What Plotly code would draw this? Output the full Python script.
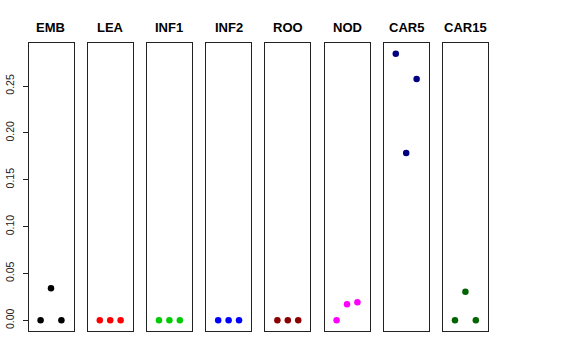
import plotly.graph_objects as go

tissues = ["EMB", "LEA", "INF1", "INF2", "ROO", "NOD", "CAR5", "CAR15"]
colors = ["#000000", "#FF0000", "#00CD00", "#0000FF", "#8B0000", "#FF00FF", "#000080", "#006400"]
xpos = [1, 2, 3]
values = {
    "EMB": [0.0, 0.0342, 0.0],
    "LEA": [0.0, 0.0, 0.0],
    "INF1": [0.0, 0.0, 0.0],
    "INF2": [0.0, 0.0, 0.0],
    "ROO": [0.0, 0.0, 0.0],
    "NOD": [0.0, 0.0171, 0.0192],
    "CAR5": [0.2845, 0.1785, 0.2575],
    "CAR15": [0.0, 0.0305, 0.0],
}
yticks = [0.0, 0.05, 0.10, 0.15, 0.20, 0.25]
ytick_labels = ["0.00", "0.05", "0.10", "0.15", "0.20", "0.25"]

W, H = 576, 360
ymax = max(max(v) for v in values.values())
pad = 0.04 * ymax
yrange = [-pad, ymax + pad]
xrange_ = [-0.16, 4.16]

fig = go.Figure()
left0, step, pw = 28.5, 59.2, 45.0
ybot, ytop = 331.0, 43.0
layout = dict(width=W, height=H, margin=dict(l=0, r=0, t=0, b=0, autoexpand=False),
              paper_bgcolor="white", plot_bgcolor="white", showlegend=False,
              font=dict(family="Liberation Sans, Arial, sans-serif", color="black"))
annotations = []
for i, t in enumerate(tissues):
    n = "" if i == 0 else str(i + 1)
    x0 = (left0 + i * step) / W
    x1 = (left0 + i * step + pw) / W
    fig.add_trace(go.Scatter(x=xpos, y=values[t], mode="markers",
                             marker=dict(color=colors[i], size=6.5, line=dict(width=0)),
                             xaxis="x" + n, yaxis="y" + n, hoverinfo="skip", cliponaxis=False))
    layout["xaxis" + n] = dict(domain=[x0, x1], range=xrange_, showgrid=False,
                               zeroline=False, showticklabels=False, ticks="",
                               showline=True, mirror=True, linecolor="#222", linewidth=1,
                               anchor="y" + n, fixedrange=True, automargin=False)
    ya = dict(domain=[1 - ybot / H, 1 - ytop / H], range=yrange, showgrid=False,
              zeroline=False, showline=True, mirror=True, linecolor="#222", linewidth=1,
              anchor="x" + n, fixedrange=True, automargin=False)
    if i == 0:
        ya.update(tickmode="array", tickvals=yticks, ticktext=ytick_labels,
                  ticks="outside", ticklen=5, tickcolor="#222", tickangle=-90,
                  ticklabelstandoff=4,
                  tickfont=dict(size=10.5, color="#222"))
    else:
        ya.update(showticklabels=False, ticks="")
    layout["yaxis" + n] = ya
    annotations.append(dict(text="<b>" + t + "</b>", x=(x0 + x1) / 2, y=1 - 28 / H,
                            xref="paper", yref="paper", showarrow=False,
                            font=dict(size=13, color="black"), xanchor="center", yanchor="middle"))
layout["annotations"] = annotations
fig.update_layout(**layout)
fig.write_html("out.html", config={"displayModeBar": False, "staticPlot": True},
               post_script="document.body.style.margin='0';document.body.style.overflow='hidden';")
